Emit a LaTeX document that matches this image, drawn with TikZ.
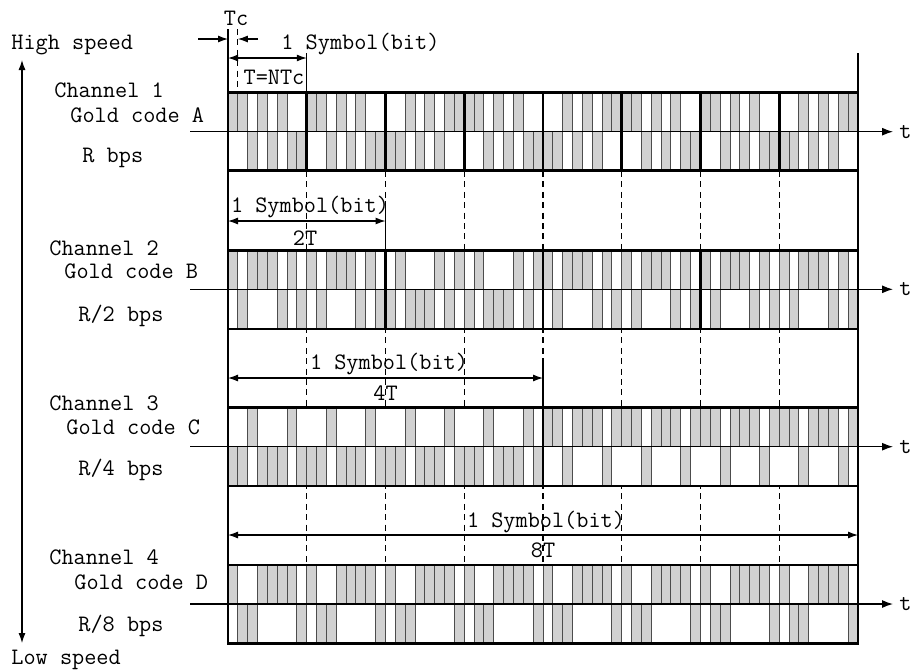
\documentclass[tikz,border=0pt]{standalone}
\usetikzlibrary{arrows.meta}
\newcommand\chipband[4]{% #1 top, #2 mid, #3 bottom, #4 list of 64 chips (1 = upper half)
  \fill[white] (228,#1) rectangle (858,#3);
  \foreach \b [count=\k from 0] in {#4} {
    \pgfmathsetmacro\xa{228+\k*9.84375}
    \pgfmathsetmacro\xb{\xa+9.84375}
    \ifnum\b=1
      \draw[chip] (\xa,#1) rectangle (\xb,#2);
    \else
      \draw[chip] (\xa,#2) rectangle (\xb,#3);
    \fi
  }
}
\begin{document}
\begin{tikzpicture}[x=0.5pt,y=-0.5pt,
  font=\ttfamily\fontsize{11.8}{13}\selectfont,
  chip/.style={draw=black!70, line width=0.5pt, fill=black!18},
  frame/.style={line width=1.3pt},
  thinline/.style={line width=0.55pt},
  guide/.style={line width=0.55pt, dash pattern=on 3pt off 2.2pt},
  dimarrow/.style={line width=0.55pt, {Latex[length=5pt,width=3.5pt]}-{Latex[length=5pt,width=3.5pt]}},
  tiparrow/.style={line width=0.55pt, -{Latex[length=5pt,width=3.5pt]}},
  axisarrow/.style={line width=0.6pt, -{Latex[length=5.5pt,width=4pt]}},
  lbl/.style={inner sep=0pt, anchor=west},
  ctr/.style={inner sep=0pt}]
\useasboundingbox (0,0) rectangle (913,671);

% guide lines (dashed) between the channels
\foreach \x in {306.75,385.5,464.25,543,621.75,700.5,779.25}
  \draw[guide] (\x,171) -- (\x,565);
\draw[guide] (237.84,29) -- (237.84,92.5);

% solid reference lines
\coordinate (L0) at (228,29);  \coordinate (L1) at (228,643);
\draw[thinline] (L0) -- (L1);
\coordinate (R0) at (858,53);  \coordinate (R1) at (858,565);
\draw[thinline] (R0) -- (R1);
\draw[thinline] (306.75,53) -- (306.75,92.5);
\draw[thinline] (385.5,201) -- (385.5,250.5);
\draw[thinline] (543,358) -- (543,407.3);

% ---------------- Channel 1
\chipband{92.5}{131.7}{170.7}{1,1,0,1,0,1,0,0, 1,1,0,1,0,1,0,0, 0,0,1,0,1,0,1,1, 1,1,0,1,0,1,0,0, 0,0,1,0,1,0,1,1, 1,1,0,1,0,1,0,0, 1,1,0,1,0,1,0,0, 0,0,1,0,1,0,1,1}
\draw[frame] (228,92.5) rectangle (858,170.7);
\foreach \x in {306.75,385.5,464.25,543,621.75,700.5,779.25}
  \draw[frame] (\x,92.5) -- (\x,170.7);
\node[lbl] (t1) at (899,131.7) {t};
\coordinate (a1) at (190,131.7);
\draw[axisarrow] (a1) -- ([xshift=-3pt]t1.west);

% ---------------- Channel 2
\chipband{250.5}{289.3}{329}{1,0,1,1,1,0,1,0,1,0,1,1,1,0,1,0, 0,1,0,0,0,1,0,1,0,1,0,0,0,1,0,1, 1,0,1,1,1,0,1,0,1,0,1,1,1,0,1,0, 1,0,1,1,1,0,1,0,1,0,1,1,1,0,1,0}
\draw[frame] (228,250.5) rectangle (858,329);
\foreach \x in {385.5,543,700.5}
  \draw[frame] (\x,250.5) -- (\x,329);
\node[lbl] (t2) at (899,289.3) {t};
\coordinate (a2) at (190,289.3);
\draw[axisarrow] (a2) -- ([xshift=-3pt]t2.west);

% ---------------- Channel 3
\chipband{407.3}{446.7}{486}{0,0,1,0,0,0,1,0,0,0,1,0,0,0,1,0,0,0,1,0,0,0,1,0,0,0,1,0,0,0,1,0, 1,1,0,1,1,1,0,1,1,1,0,1,1,1,0,1,1,1,0,1,1,1,0,1,1,1,0,1,1,1,0,1}
\draw[frame] (228,407.3) rectangle (858,486);
\draw[frame] (543,407.3) -- (543,486);
\node[lbl] (t3) at (899,446.7) {t};
\coordinate (a3) at (190,446.7);
\draw[axisarrow] (a3) -- ([xshift=-3pt]t3.west);

% ---------------- Channel 4
\chipband{565}{604}{643.3}{1,0,0,1,1,1,1,0, 1,0,0,1,1,1,1,0, 1,0,0,1,1,1,1,0, 1,0,0,1,1,1,1,0, 1,0,0,1,1,1,1,0, 1,0,0,1,1,1,1,0, 1,0,0,1,1,1,1,0, 1,0,0,1,1,1,1,0}
\draw[frame] (228,565) rectangle (858,643.3);
\node[lbl] (t4) at (899,604) {t};
\coordinate (a4) at (190,604);
\draw[axisarrow] (a4) -- ([xshift=-3pt]t4.west);

% ---------------- top annotations
\node[ctr] (tc) at (236,18) {Tc};
\coordinate (tcl0) at (198,39); \coordinate (tcl1) at (228,39);
\coordinate (tcr0) at (258,39); \coordinate (tcr1) at (237.84,39);
\draw[tiparrow] (tcl0) -- (tcl1);
\draw[tiparrow] (tcr0) -- (tcr1);
\node[lbl] (sym1) at (281,44) {1 Symbol(bit)};
\coordinate (d1a) at (228,58); \coordinate (d1b) at (306.75,58);
\draw[dimarrow] (d1a) -- (d1b);
\node[ctr] (tnt) at (274,77) {T=NTc};

% channel 2 symbol
\node[ctr] (sym2) at (310,207) {1 Symbol(bit)};
\coordinate (d2a) at (228,221); \coordinate (d2b) at (385.5,221);
\draw[dimarrow] (d2a) -- (d2b);
\node[ctr] (len2) at (305,238) {2T};

% channel 3 symbol
\node[ctr] (sym3) at (389,364) {1 Symbol(bit)};
\coordinate (d3a) at (228,378); \coordinate (d3b) at (543,378);
\draw[dimarrow] (d3a) -- (d3b);
\node[ctr] (len3) at (385.5,393) {4T};

% channel 4 symbol
\node[ctr] (sym4) at (546,522) {1 Symbol(bit)};
\coordinate (d4a) at (228,535); \coordinate (d4b) at (858,535);
\draw[dimarrow] (d4a) -- (d4b);
\node[ctr] (len4) at (543,550) {8T};

% ---------------- left labels
\node[lbl] (hs) at (11,45) {High speed};
\node[lbl] (ls) at (11,660) {Low speed};
\coordinate (sp0) at (22,60); \coordinate (sp1) at (22,643);
\draw[dimarrow] (sp0) -- (sp1);

\node[lbl] (c1) at (54,90) {Channel 1};
\node[lbl] (g1) at (70,115) {Gold code A};
\node[lbl] (r1) at (82,158) {R bps};

\node[lbl] (c2) at (49,248) {Channel 2};
\node[lbl] (g2) at (64,271) {Gold code B};
\node[lbl] (r2) at (78,316) {R/2 bps};

\node[lbl] (c3) at (49,403) {Channel 3};
\node[lbl] (g3) at (66,427) {Gold code C};
\node[lbl] (r3) at (78,470) {R/4 bps};

\node[lbl] (c4) at (49,557) {Channel 4};
\node[lbl] (g4) at (74,582) {Gold code D};
\node[lbl] (r4) at (78,626) {R/8 bps};
\end{tikzpicture}
\end{document}
